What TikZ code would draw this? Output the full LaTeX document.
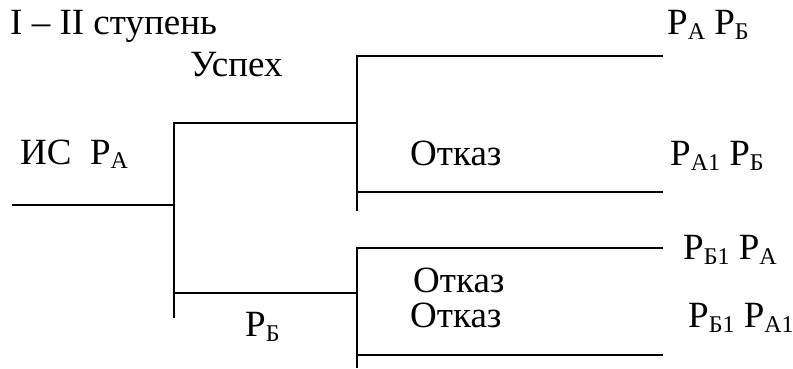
\documentclass[tikz,border=0pt]{standalone}
\usepackage{fontspec}
\setmainfont{Liberation Serif}
\newcommand{\sbs}[1]{\raisebox{-5pt}{\fontsize{24}{24}\selectfont #1}}
\begin{document}
\begin{tikzpicture}[x=1pt,y=-1pt,
  branch/.style={line width=2pt, line cap=butt, line join=miter},
  lbl/.style={anchor=base west, inner sep=0pt, font=\fontsize{37}{40}\selectfont}]
\useasboundingbox (0,0) rectangle (793,369);
% junction points
\coordinate (in) at (12,205);
\coordinate (j1) at (174,205);
\coordinate (j1t) at (174,123);
\coordinate (j1b) at (174,318);
\coordinate (j1m) at (174,293);
\coordinate (j2) at (357,123);
\coordinate (j2t) at (357,56);
\coordinate (j2b) at (357,211);
\coordinate (j2m) at (357,192);
\coordinate (e1) at (663,56);
\coordinate (e2) at (663,192);
\coordinate (j3) at (357,293);
\coordinate (j3t) at (357,248);
\coordinate (j3b) at (357,368);
\coordinate (j3m) at (357,355);
\coordinate (e3) at (663,248);
\coordinate (e4) at (663,355);
% tree
\draw[branch] (in) -- (j1);
\draw[branch] (j2) -- (j1t) -- (j1b);
\draw[branch] (j1m) -- (j3);
\draw[branch] (e1) -- (j2t) -- (j2b);
\draw[branch] (j2m) -- (e2);
\draw[branch] (e3) -- (j3t) -- (j3b);
\draw[branch] (j3m) -- (e4);
% labels
\node[lbl] (title) at (10,35) {I – II ступень};
\node[lbl] (succ) at (190,77) {Успех};
\node[lbl] (is) at (20,164) {ИС\hspace{0.5em}Р\sbs{А}};
\node[lbl] (r1) at (667,35) {Р\sbs{А} Р\sbs{Б}};
\node[lbl] (f1) at (410,165) {Отказ};
\node[lbl] (r2) at (670,165) {Р\sbs{А1} Р\sbs{Б}};
\node[lbl] (r3) at (683,259) {Р\sbs{Б1} Р\sbs{А}};
\node[lbl] (f2) at (413,292) {Отказ};
\node[lbl] (f3) at (410,327) {Отказ};
\node[lbl] (r4) at (688,327) {Р\sbs{Б1} Р\sbs{А1}};
\node[lbl] (pb) at (245,336) {Р\sbs{Б}};
\end{tikzpicture}
\end{document}
